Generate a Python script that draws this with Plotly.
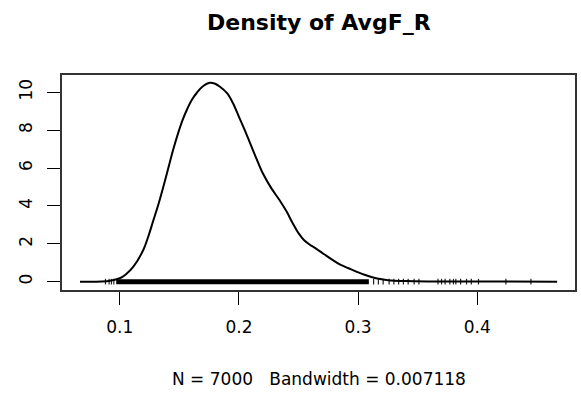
import plotly.graph_objects as go

# Density curve
dens_x = [0.0666, 0.085, 0.092, 0.100, 0.105, 0.1114, 0.1197, 0.124, 0.128, 0.1325,
          0.1365, 0.1405, 0.1445, 0.1485, 0.1525, 0.1565, 0.1605, 0.165, 0.170, 0.1754,
          0.180, 0.1838, 0.190, 0.195, 0.200, 0.206, 0.213, 0.220, 0.227, 0.234,
          0.240, 0.245, 0.2504, 0.2545, 0.2595, 0.2644, 0.2715, 0.2785, 0.285, 0.292,
          0.299, 0.306, 0.315, 0.325, 0.340, 0.360, 0.400, 0.467]
dens_y = [0.0, 0.01, 0.05, 0.18, 0.38, 0.79, 1.67, 2.4, 3.2, 4.1,
          5.0, 5.95, 6.9, 7.75, 8.5, 9.1, 9.6, 10.0, 10.33, 10.5,
          10.45, 10.3, 9.95, 9.42, 8.7, 7.83, 6.75, 5.72, 4.95, 4.31,
          3.7, 3.1, 2.52, 2.2, 1.95, 1.76, 1.45, 1.15, 0.9, 0.71,
          0.52, 0.35, 0.18, 0.08, 0.03, 0.01, 0.005, 0.0]

# Rug: dense band range and sparse observations
rug_dense = [0.097, 0.309]
rug_sparse = [0.088, 0.091, 0.093, 0.095,
              0.313, 0.317, 0.321, 0.326, 0.330, 0.334, 0.338, 0.342, 0.347, 0.351,
              0.367, 0.370, 0.373, 0.377, 0.380, 0.382, 0.386, 0.391, 0.395, 0.401,
              0.424, 0.445]

x_ticks = [0.1, 0.2, 0.3, 0.4]
x_tick_labels = ["0.1", "0.2", "0.3", "0.4"]
y_ticks = [0, 2, 4, 6, 8, 10]
y_tick_labels = ["0", "2", "4", "6", "8", "10"]

title_text = "Density of AvgF_R"
sub_text = "N = 7000   Bandwidth = 0.007118"

fig = go.Figure()
fig.add_trace(go.Scatter(x=rug_dense, y=[0] * len(rug_dense), mode="lines",
                         line=dict(color="black", width=5), hoverinfo="skip"))
fig.add_trace(go.Scatter(x=rug_sparse, y=[0] * len(rug_sparse), mode="markers",
                         marker=dict(symbol="line-ns", size=4, line=dict(color="#222", width=1.2)),
                         hoverinfo="skip"))
fig.add_trace(go.Scatter(x=dens_x, y=dens_y, mode="lines",
                         line=dict(color="black", width=2, shape="spline", smoothing=1.0)))

axis_font = dict(family="DejaVu Sans", size=17, color="black")
fig.update_layout(
    width=581, height=393,
    margin=dict(l=62, r=4, t=75, b=103),
    paper_bgcolor="white", plot_bgcolor="white",
    showlegend=False,
    xaxis=dict(range=[0.0515, 0.4820], tickvals=x_ticks, ticktext=x_tick_labels,
               ticks="outside", ticklen=13, tickwidth=1, tickcolor="black",
               showline=True, mirror=True, linecolor="#333", linewidth=2,
               showgrid=False, zeroline=False, tickfont=axis_font,
               ticklabelstandoff=8),
    yaxis=dict(range=[-0.44, 10.91], tickvals=y_ticks, ticktext=y_tick_labels,
               ticks="outside", ticklen=13, tickwidth=1, tickcolor="black",
               showline=True, mirror=True, linecolor="#333", linewidth=2,
               showgrid=False, zeroline=False, tickfont=axis_font, tickangle=-90,
               ticklabelstandoff=8),
    annotations=[
        dict(text="<b>" + title_text + "</b>", xref="paper", yref="paper", x=0.5, y=1.244,
             xanchor="center", yanchor="middle", showarrow=False,
             font=dict(family="DejaVu Sans", size=22, color="black")),
        dict(text=sub_text, xref="paper", yref="paper", x=0.5, y=-0.414,
             xanchor="center", yanchor="middle", showarrow=False,
             font=dict(family="DejaVu Sans", size=17, color="black")),
    ],
)

fig.write_html("out.html")
